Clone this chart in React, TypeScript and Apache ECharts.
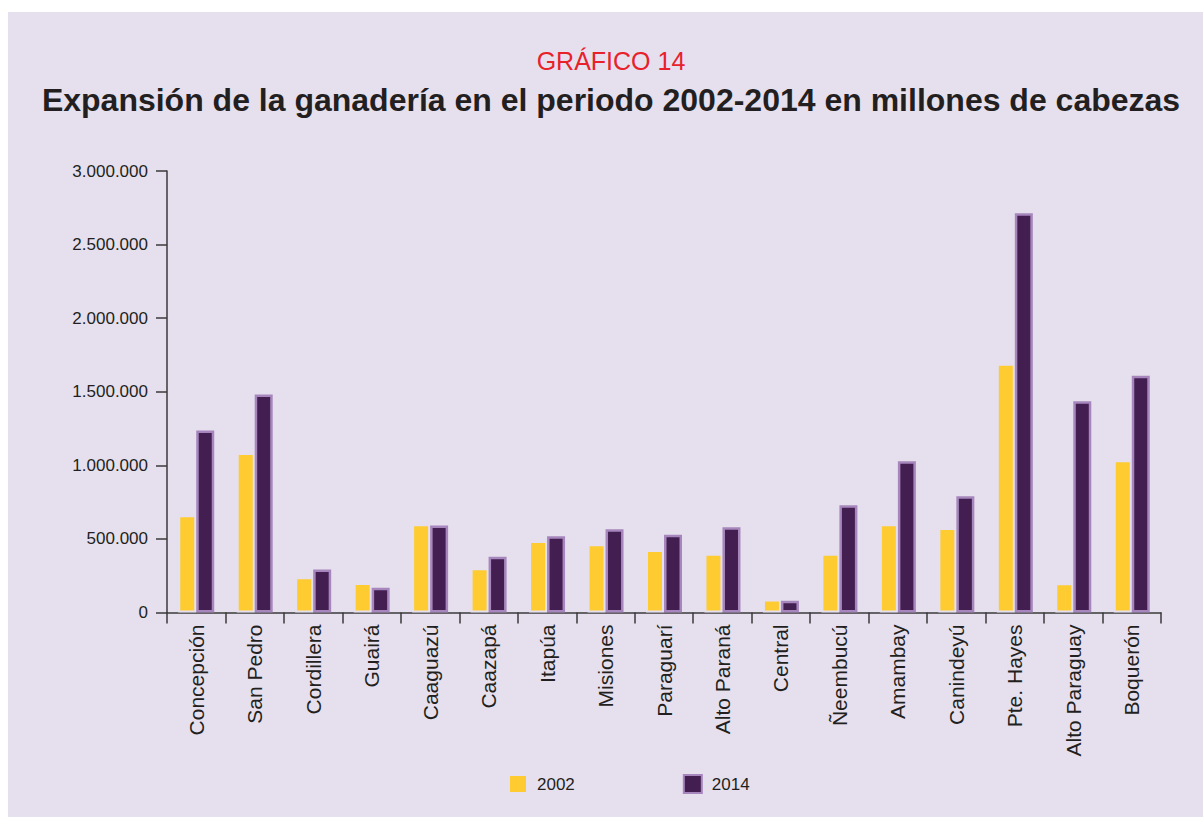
import React, { useEffect, useRef } from "react";
import * as echarts from "echarts";

const categories = [
  "Concepción", "San Pedro", "Cordillera", "Guairá", "Caaguazú", "Caazapá", "Itapúa",
  "Misiones", "Paraguarí", "Alto Paraná", "Central", "Ñeembucú", "Amambay", "Canindeyú",
  "Pte. Hayes", "Alto Paraguay", "Boquerón",
];
const values2002 = [660000, 1084000, 239000, 200000, 599000, 300000, 486000, 463000, 425000, 400000, 88000, 400000, 599000, 574000, 1690000, 198000, 1034000];
const values2014 = [1237000, 1481000, 293000, 168000, 592000, 379000, 518000, 565000, 529000, 579000, 80000, 728000, 1027000, 790000, 2713000, 1435000, 1609000];
const seriesNames = ["2002", "2014"];
const yTicks = { min: 0, max: 3000000, interval: 500000 };
const kicker = "GRÁFICO 14";
const mainTitle = "Expansión de la ganadería en el periodo 2002-2014 en millones de cabezas";

const BG = "#e6e0ee";
const TEXT = "#231f20";
const AXIS = "#3a3a3a";
const SANS = "'Liberation Sans', Arial, Helvetica, sans-serif";

function fmt(v: number): string {
  return String(Math.round(v)).replace(/\B(?=(\d{3})+(?!\d))/g, ".");
}

export default function App() {
  const ref = useRef<HTMLDivElement>(null);
  useEffect(() => {
    if (!ref.current) return;
    const chart = echarts.init(ref.current, undefined, { renderer: "svg" });
    chart.setOption({
      animation: false,
      backgroundColor: BG,
      graphic: [
        {
          type: "text",
          x: 603,
          y: 49,
          style: {
            text: kicker,
            fill: "#e8212b",
            font: `normal 25px ${SANS}`,
            align: "center",
            verticalAlign: "middle",
          },
        },
        {
          type: "text",
          x: 603,
          y: 88,
          style: {
            text: mainTitle,
            fill: TEXT,
            font: `bold 32px ${SANS}`,
            align: "center",
            verticalAlign: "middle",
          },
        },
      ],
      legend: {
        data: seriesNames,
        icon: "rect",
        left: 495,
        top: 757,
        itemWidth: 18,
        itemHeight: 18,
        itemGap: 108,
        textStyle: {
          color: TEXT,
          fontFamily: SANS,
          fontSize: 17,
          padding: [0, 0, 0, 5],
        },
      },
      grid: { left: 159, right: 42, top: 159, bottom: 204.5, containLabel: false },
      xAxis: {
        type: "category",
        data: categories,
        axisLine: { show: true, lineStyle: { color: AXIS, width: 1.5 } },
        axisTick: { show: true, length: 11, alignWithLabel: false, lineStyle: { color: AXIS, width: 1.5 } },
        axisLabel: {
          rotate: 90,
          interval: 0,
          margin: 12,
          color: TEXT,
          fontFamily: SANS,
          fontSize: 21,
        },
        splitLine: { show: false },
      },
      yAxis: {
        type: "value",
        min: yTicks.min,
        max: yTicks.max,
        interval: yTicks.interval,
        axisLine: { show: true, lineStyle: { color: AXIS, width: 1.5 } },
        axisTick: { show: true, length: 11, lineStyle: { color: AXIS, width: 1.5 } },
        axisLabel: {
          margin: 19,
          color: TEXT,
          fontFamily: SANS,
          fontSize: 17,
          formatter: (v: number) => fmt(v),
        },
        splitLine: { show: false },
      },
      series: [
        {
          name: seriesNames[0],
          type: "bar",
          data: values2002,
          barWidth: 18,
          barGap: "0%",
          itemStyle: { color: "#fecb30", borderColor: BG, borderWidth: 2 },
        },
        {
          name: seriesNames[1],
          type: "bar",
          data: values2014,
          barWidth: 18,
          barGap: "0%",
          itemStyle: { color: "#421e51", borderColor: "#a686bc", borderWidth: 2.5 },
        },
      ],
    });
    return () => chart.dispose();
  }, []);
  return (
    <div
      ref={ref}
      style={{ position: "fixed", left: 8, top: 12, width: 1195, height: 805, background: BG }}
    />
  );
}
